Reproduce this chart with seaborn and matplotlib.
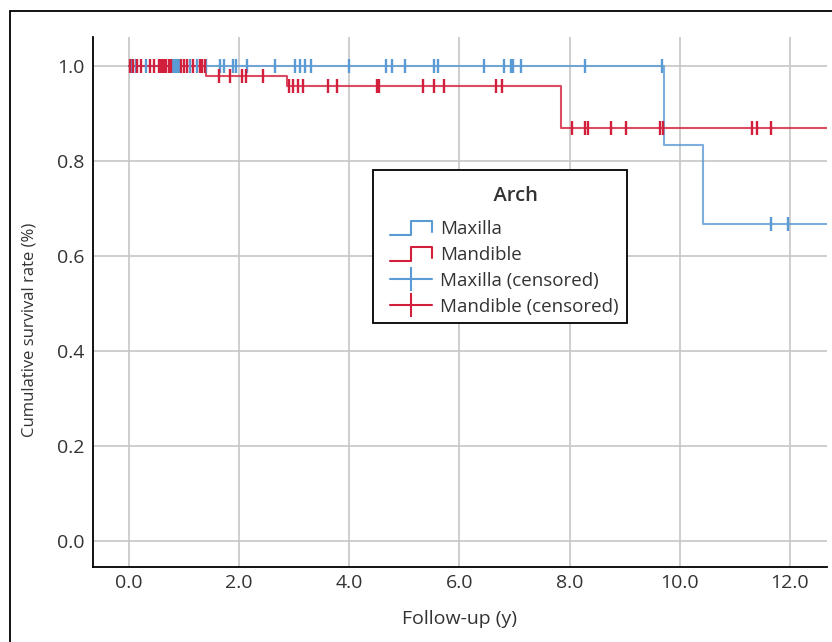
import numpy as np
import pandas as pd
import matplotlib
matplotlib.use("Agg")
import matplotlib.pyplot as plt
import seaborn as sns
from matplotlib.lines import Line2D
from matplotlib.patches import Rectangle
from matplotlib.legend_handler import HandlerBase
from matplotlib.transforms import ScaledTranslation

# ---------------- data ----------------
arches = ["Maxilla", "Mandible"]
colors = {"Maxilla": "#5b9bd5", "Mandible": "#d21f3c"}

# Kaplan-Meier steps (event times and survival after each event)
maxilla_event_times = [9.71, 10.42]
maxilla_event_surv = [0.833, 0.667]
mandible_event_times = [1.40, 2.87, 7.85]
mandible_event_surv = [0.979, 0.957, 0.870]
end_time = 13.0

# censored observations (years)
maxilla_censored = [0.03, 0.12, 0.30, 0.58, 0.62, 0.79, 0.84, 0.88, 0.91, 1.10,
                    1.23, 1.39, 1.66, 1.72, 1.89, 1.94, 2.14, 2.66, 3.02, 3.11,
                    3.19, 3.30, 3.99, 4.66, 4.77, 5.01, 5.54, 5.62, 6.44, 6.81,
                    6.93, 6.98, 7.11, 8.28, 9.68, 11.65, 11.97]
mandible_censored = [0.02, 0.07, 0.14, 0.21, 0.39, 0.46, 0.55, 0.58, 0.60, 0.62,
                     0.64, 0.68, 0.73, 0.76, 0.94, 1.00, 1.05, 1.17, 1.28, 1.33,
                     1.38, 1.63, 1.84, 2.05, 2.12, 2.44, 2.91, 2.98, 3.06, 3.16,
                     3.62, 3.77, 4.50, 4.54, 5.33, 5.53, 5.72, 6.66, 6.78, 8.05,
                     8.28, 8.34, 8.76, 9.02, 9.64, 9.69, 11.32, 11.40, 11.65]

x_ticks = [0, 2, 4, 6, 8, 10, 12]
x_tick_labels = ["0.0", "2.0", "4.0", "6.0", "8.0", "10.0", "12.0"]
y_ticks = [0.0, 0.2, 0.4, 0.6, 0.8, 1.0]
y_tick_labels = ["0.0", "0.2", "0.4", "0.6", "0.8", "1.0"]

events = {"Maxilla": (maxilla_event_times, maxilla_event_surv),
          "Mandible": (mandible_event_times, mandible_event_surv)}
censored = {"Maxilla": maxilla_censored, "Mandible": mandible_censored}

# build tidy frames
curve_rows = []
for a in arches:
    t, s = events[a]
    times = [0.0] + list(t) + [end_time]
    surv = [1.0] + list(s) + [s[-1]]
    for ti, si in zip(times, surv):
        curve_rows.append({"arch": a, "time": ti, "surv": si})
curves = pd.DataFrame(curve_rows)


def surv_at(a, x):
    t, s = events[a]
    val = 1.0
    for ti, si in zip(t, s):
        if x >= ti:
            val = si
    return val


cens_rows = []
for a in arches:
    for c in censored[a]:
        cens_rows.append({"arch": a, "time": c, "surv": surv_at(a, c)})
cens = pd.DataFrame(cens_rows)

# ---------------- style ----------------
sns.set_theme(style="whitegrid")
plt.rcParams["font.family"] = ["Open Sans", "DejaVu Sans"]
text_color = "#333333"

W, H = 832, 642
fig = plt.figure(figsize=(W / 100, H / 100), dpi=100)
ax = fig.add_axes([93 / W, 1 - 567 / H, (827 - 93) / W, (567 - 37) / H])

sns.lineplot(data=curves, x="time", y="surv", hue="arch", palette=colors,
             hue_order=arches, drawstyle="steps-post", estimator=None,
             sort=False, linewidth=1.5, alpha=0.8, legend=False, ax=ax, zorder=3)

for a in arches:
    sub = cens[cens["arch"] == a]
    sns.scatterplot(data=sub, x="time", y="surv", marker="|", s=110,
                    color=colors[a], linewidth=1.7, legend=False, ax=ax, zorder=4)

ax.set_xlim(-0.654, 12.675)
ax.set_ylim(-0.0547, 1.061)
ax.set_xticks(x_ticks)
ax.set_xticklabels(x_tick_labels)
ax.set_yticks(y_ticks)
ax.set_yticklabels(y_tick_labels)
ax.tick_params(axis="both", length=0, labelsize=14, colors=text_color)
ax.tick_params(axis="x", pad=5)
ax.tick_params(axis="y", pad=6)
ax.grid(True, color="#c6c6c6", linewidth=1.2)
ax.set_axisbelow(True)
for side in ["top", "right"]:
    ax.spines[side].set_visible(False)
for side in ["left", "bottom"]:
    ax.spines[side].set_color("black")
    ax.spines[side].set_linewidth(1.3)
ax.set_xlabel("Follow-up (y)", fontsize=14, color=text_color, labelpad=13)
ax.set_ylabel("Cumulative survival rate (%)", fontsize=12, color=text_color)
ax.yaxis.set_label_coords((38 - 93) / 734, (567 - 330) / 530)


# ---------------- legend ----------------
HANDLE_OFFSET = 9  # px of blank before the glyph


class StepHandler(HandlerBase):
    def create_artists(self, legend, orig_handle, xdescent, ydescent,
                       width, height, fontsize, trans):
        off = HANDLE_OFFSET * 0.72  # px -> pt at 100 dpi
        x0, y0 = -xdescent + off, -ydescent
        w = width - off
        xs = [x0, x0 + 0.5 * w, x0 + 0.5 * w, x0 + w, x0 + w]
        ys = [y0 - 0.1 * height, y0 - 0.1 * height, y0 + 0.95 * height,
              y0 + 0.95 * height, y0 + 0.1 * height]
        ln = Line2D(xs, ys, color=orig_handle.get_color(), linewidth=1.5,
                    transform=trans)
        return [ln]


class CensorHandler(HandlerBase):
    def create_artists(self, legend, orig_handle, xdescent, ydescent,
                       width, height, fontsize, trans):
        off = HANDLE_OFFSET * 0.72
        x0, y0 = -xdescent + off, -ydescent
        w = width - off
        ym = y0 + 0.5 * height
        ln = Line2D([x0, x0 + w], [ym, ym], color=orig_handle.get_color(),
                    linewidth=1.5, transform=trans)
        mk = Line2D([x0 + 0.5 * w], [ym], color=orig_handle.get_color(),
                    marker="|", markersize=17, markeredgewidth=1.5,
                    linestyle="none", transform=trans)
        return [ln, mk]


step_max = Line2D([], [], color=colors["Maxilla"])
step_man = Line2D([], [], color=colors["Mandible"])
cen_max = Line2D([], [], color=colors["Maxilla"])
cen_man = Line2D([], [], color=colors["Mandible"])
handles = [step_max, step_man, cen_max, cen_man]
labels = ["Maxilla", "Mandible", "Maxilla (censored)", "Mandible (censored)"]

fs = 13.5
leg = ax.legend(handles, labels, title="      Arch", loc="upper left",
                bbox_to_anchor=(373 / W, 1 - 170 / H), bbox_transform=fig.transFigure,
                borderaxespad=0, frameon=True, fancybox=False, framealpha=1,
                edgecolor="black", fontsize=fs, title_fontsize=14.5,
                handlelength=(51 * 0.72) / fs, handletextpad=(9 * 0.72) / fs,
                labelspacing=0.43, borderpad=0.4, numpoints=1,
                handler_map={step_max: StepHandler(), step_man: StepHandler(),
                             cen_max: CensorHandler(), cen_man: CensorHandler()})
TITLE_SHIFT = 9  # px
leg._legend_box.sep = 9.5 + TITLE_SHIFT * 0.72
title = leg.get_title()
title.set_transform(title.get_transform() +
                    ScaledTranslation(0, -TITLE_SHIFT / 100, fig.dpi_scale_trans))
leg.get_frame().set_linewidth(1.3)
for t in leg.get_texts():
    t.set_color(text_color)
title.set_color(text_color)
title.set_fontweight("semibold")

# outer figure frame
fig.add_artist(Rectangle((10 / W, -0.1), 1.2, (1 - 11 / H) + 0.1,
                         transform=fig.transFigure, fill=False,
                         edgecolor="black", linewidth=1.3))

fig.savefig("out.png", dpi=100)
